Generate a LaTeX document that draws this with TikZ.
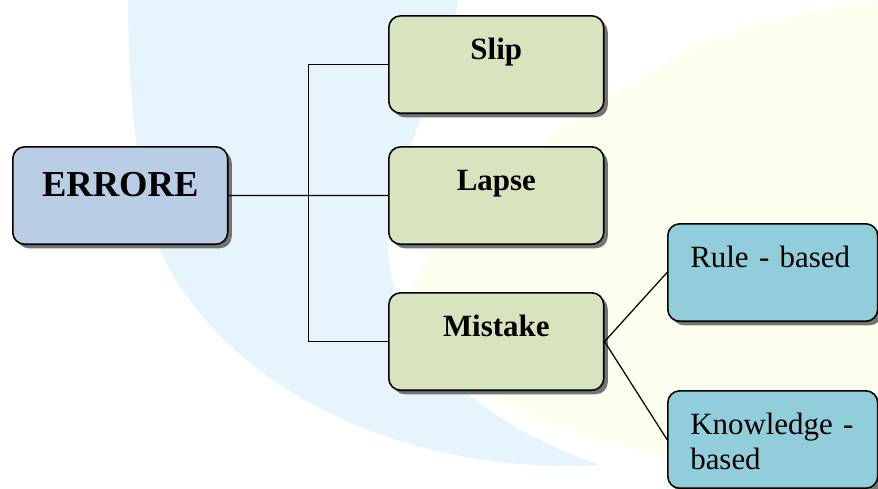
\documentclass[tikz,border=0pt]{standalone}
\usepackage{fontspec}
\setmainfont{Liberation Serif}
\usetikzlibrary{calc,shadows}

\definecolor{rootfill}{RGB}{185,205,229}
\definecolor{typefill}{RGB}{215,228,189}
\definecolor{kindfill}{RGB}{146,205,220}
\definecolor{wmblue}{RGB}{229,244,253}
\definecolor{wmyellow}{RGB}{254,254,238}

\begin{document}
\begin{tikzpicture}[x=0.02cm, y=-0.02cm,
    itembox/.style={draw=black, line width=0.9pt, rounded corners=0.24cm,
        drop shadow={shadow xshift=0.08cm, shadow yshift=-0.08cm, fill=black!60, opacity=0.9},
        inner sep=0pt, anchor=north west},
    rootbox/.style={itembox, fill=rootfill, minimum width=4.3cm,
        text height=1.0cm, text depth=0.95cm, font=\fontsize{20.8}{24}\selectfont\bfseries},
    typebox/.style={itembox, fill=typefill, minimum width=4.3cm,
        text height=0.88cm, text depth=1.07cm, font=\fontsize{17.6}{21}\selectfont\bfseries},
    kindbox/.style={itembox, fill=kindfill, text width=3.3cm, inner xsep=0.45cm, align=left,
        text height=0.88cm, text depth=1.07cm, font=\fontsize{17.6}{20}\selectfont},
    link/.style={draw=black, line width=0.7pt}]

    \useasboundingbox (0,0) rectangle (878,488);

    % --- faint logo behind the chart ---
    \fill[wmblue] (128,0) -- (458,0) .. controls (445,90) and (385,170) .. (388,250)
        .. controls (392,340) and (470,420) .. (600,465)
        .. controls (420,475) and (230,400) .. (160,250)
        .. controls (135,180) and (128,80) .. (128,0);
    \fill[wmyellow] (410,295) .. controls (440,210) and (560,120) .. (700,45)
        .. controls (760,20) and (820,10) .. (878,0) -- (878,455) -- (660,455)
        .. controls (540,430) and (430,380) .. (410,295);

    % --- boxes ---
    \node[rootbox] (err) at (12,146) {ERRORE};
    \node[typebox] (slip) at (388,15) {Slip};
    \node[typebox] (lapse) at (388,146) {Lapse};
    \node[typebox] (mistake) at (388,292) {Mistake};
    \node[kindbox] (rule) at (667,223) {Rule - based};
    \node[kindbox] (know) at (667,390) {Knowledge -\\based};

    % --- connectors ---
    \coordinate (fork) at ($(err.east)!0.5!(lapse.west)$);
    \draw[link] (err.east) -- (lapse.west);
    \draw[link] (slip.west) -| (fork) |- (mistake.west);
    \draw[link] (mistake.east) -- (rule.west);
    \draw[link] (mistake.east) -- (know.west);
\end{tikzpicture}
\end{document}
